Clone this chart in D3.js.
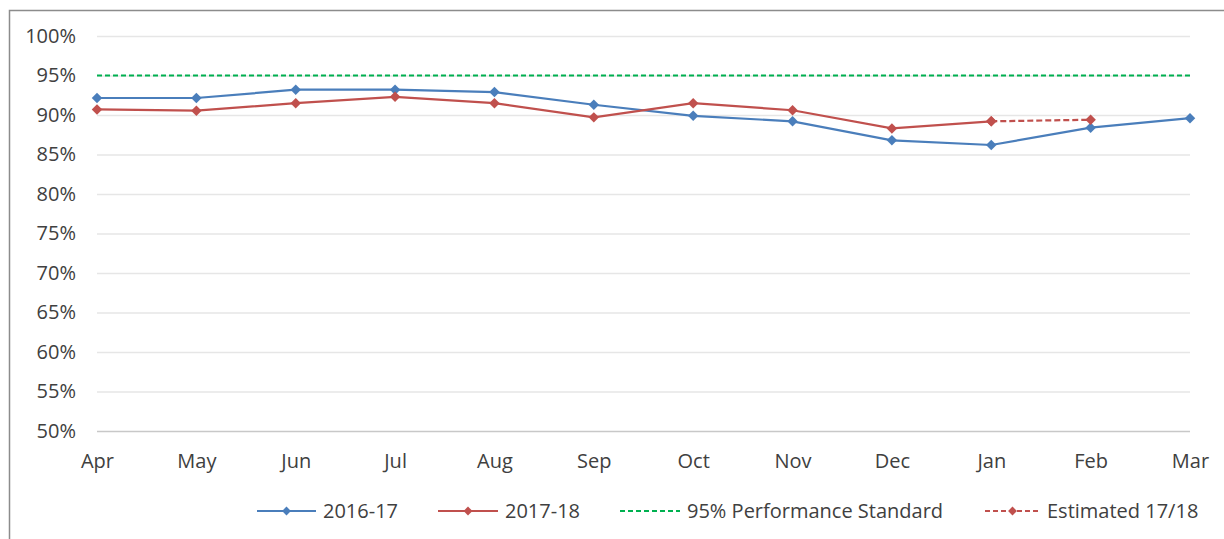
<!DOCTYPE html>
<html>
<head>
<meta charset="utf-8">
<script src="https://cdn.jsdelivr.net/npm/d3@7"></script>
<style>
  body { margin: 0; background: #fff; }
  text { font-family: "Open Sans", Lato, sans-serif; fill: #404040; }
</style>
</head>
<body>
<div id="chart"></div>
<script>
// data
const months = ['Apr','May','Jun','Jul','Aug','Sep','Oct','Nov','Dec','Jan','Feb','Mar'];
const yTicks = [0.50,0.55,0.60,0.65,0.70,0.75,0.80,0.85,0.90,0.95,1.00];
const series1617 = [0.9215,0.9215,0.932,0.932,0.929,0.913,0.899,0.892,0.868,0.862,0.884,0.896];
const series1718 = [0.907,0.9055,0.915,0.923,0.915,0.897,0.915,0.906,0.883,0.892];
const estimated = [{m:'Jan', v:0.892}, {m:'Feb', v:0.894}];
const standard = 0.95;

const colors = {blue: '#4a7ebb', red: '#c0504d', green: '#00b050'};

const width = 1224, height = 539;
const margin = {top: 36, right: 34, bottom: 108, left: 97};
const fontSize = 20;

let svg = d3.select('#chart').append('svg')
  .attr('width', width)
  .attr('height', height);

// outer frame (right and bottom edges fall outside the picture)
svg.append('rect')
  .attr('x', 9.5).attr('y', 10.5)
  .attr('width', 1400).attr('height', 700)
  .attr('fill', 'none')
  .attr('stroke', '#8c8c8c')
  .attr('stroke-width', 1.5);

let x = d3.scalePoint()
  .domain(months)
  .range([margin.left, width - margin.right]);

let y = d3.scaleLinear()
  .domain([0.5, 1])
  .range([height - margin.bottom, margin.top]);

// gridlines + y labels
let yAxis = d3.axisLeft(y)
  .tickValues(yTicks)
  .tickFormat(d3.format('.0%'))
  .tickSize(-(width - margin.right - margin.left))
  .tickPadding(21);

let gy = svg.append('g')
  .attr('transform', `translate(${margin.left},0)`)
  .call(yAxis);
gy.select('.domain').remove();
gy.selectAll('.tick line')
  .attr('stroke', d => d === 0.5 ? '#c8c8c8' : '#e6e6e6')
  .attr('stroke-width', 1.5);
gy.selectAll('.tick text')
  .attr('font-size', fontSize)
  .attr('font-family', '"Open Sans", sans-serif')
  .attr('fill', '#404040');

// x labels
let xAxis = d3.axisBottom(x).tickSize(0).tickPadding(23);
let gx = svg.append('g')
  .attr('transform', `translate(0,${height - margin.bottom})`)
  .call(xAxis);
gx.select('.domain').remove();
gx.selectAll('.tick text')
  .attr('font-size', fontSize)
  .attr('font-family', '"Open Sans", sans-serif')
  .attr('fill', '#404040');

// 95% standard
svg.append('line')
  .attr('x1', x('Apr')).attr('x2', x('Mar'))
  .attr('y1', y(standard)).attr('y2', y(standard))
  .attr('stroke', colors.green)
  .attr('stroke-width', 2)
  .attr('stroke-dasharray', '5,3');

let line = d3.line()
  .x(d => x(d.m))
  .y(d => y(d.v));

// square diamond marker
let diamond = d3.symbol().type(d3.symbolDiamond2 || d3.symbolDiamond).size(70);

function drawSeries(data, color, dashed) {
  svg.append('path')
    .datum(data)
    .attr('fill', 'none')
    .attr('stroke', color)
    .attr('stroke-width', 2.2)
    .attr('stroke-dasharray', dashed ? '6,3' : null)
    .attr('d', line);

  svg.append('g').selectAll('path')
    .data(data)
    .enter().append('path')
    .attr('d', diamond)
    .attr('fill', color)
    .attr('transform', d => `translate(${x(d.m)},${y(d.v)})`);
}

drawSeries(series1617.map((v, i) => ({m: months[i], v: v})), colors.blue, false);
drawSeries(estimated, colors.red, true);
drawSeries(series1718.map((v, i) => ({m: months[i], v: v})), colors.red, false);

// legend
const legendItems = [
  {label: '2016-17', color: colors.blue, dash: null, marker: true, x0: 257, x1: 316},
  {label: '2017-18', color: colors.red, dash: null, marker: true, x0: 438, x1: 498},
  {label: '95% Performance Standard', color: colors.green, dash: '5,3', marker: false, x0: 620, x1: 680},
  {label: 'Estimated 17/18', color: colors.red, dash: '5,3', marker: true, x0: 985, x1: 1040}
];
const legendY = 511;

let legend = svg.append('g').attr('class', 'legend');
legendItems.forEach(d => {
  legend.append('line')
    .attr('x1', d.x0).attr('x2', d.x1)
    .attr('y1', legendY).attr('y2', legendY)
    .attr('stroke', d.color)
    .attr('stroke-width', 2)
    .attr('stroke-dasharray', d.dash);
  if (d.marker) {
    legend.append('path')
      .attr('d', d3.symbol().type(d3.symbolDiamond2 || d3.symbolDiamond).size(50))
      .attr('fill', d.color)
      .attr('transform', `translate(${(d.x0 + d.x1) / 2},${legendY})`);
  }
  legend.append('text')
    .attr('x', d.x1 + 7)
    .attr('y', legendY)
    .attr('dy', '0.35em')
    .attr('font-size', fontSize)
    .text(d.label);
});
</script>
</body>
</html>
